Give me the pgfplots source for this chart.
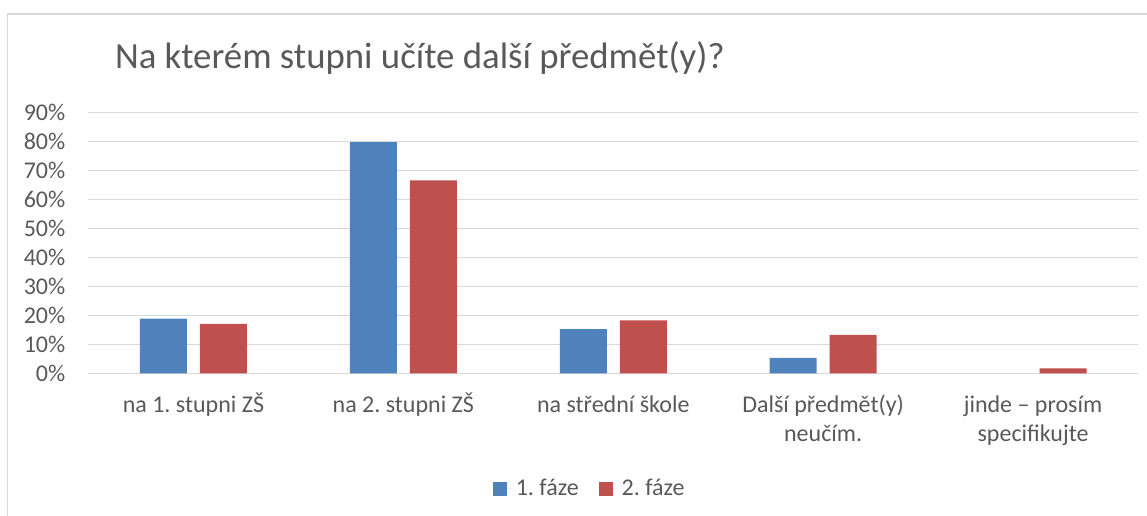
\documentclass[border=0pt]{standalone}
\usepackage{fontspec}
\setmainfont{Carlito}
\usepackage{pgfplots}
\pgfplotsset{compat=1.18}
\definecolor{txtgray}{HTML}{595959}
\definecolor{gridgray}{HTML}{D9D9D9}
\definecolor{faze1}{HTML}{4F81BD}
\definecolor{faze2}{HTML}{C0504D}
\frenchspacing

\begin{document}
\begin{tikzpicture}
% 1 px of the reference = 0.5pt
\useasboundingbox (0,0) rectangle (573.5pt,-257.5pt);
\draw[gridgray, line width=0.75pt] (3.85pt,-265pt) -- (3.85pt,-7pt) -- (580pt,-7pt);
\node[anchor=base west, inner sep=0pt, text=txtgray, font=\fontsize{18.4}{21}\selectfont]
  at (57.3pt,-34.15pt) {Na kterém stupni učíte další předmět(y)?};

\begin{axis}[
    at={(44.25pt,-186.65pt)}, anchor=south west,
    scale only axis,
    width=524.75pt, height=130.3pt,
    xmin=-0.5, xmax=4.5,
    ymin=0, ymax=90,
    xtick={0,1,2,3,4},
    xticklabels={\strut na 1. stupni ZŠ, \strut na 2. stupni ZŠ, \strut na střední škole,
                 {\strut Další předmět(y)\\neučím.}, {\strut jinde – prosím\\specifikujte}},
    ytick={0,10,...,90},
    yticklabels={0\%,10\%,20\%,30\%,40\%,50\%,60\%,70\%,80\%,90\%},
    ymajorgrids,
    grid style={draw=gridgray, line width=0.75pt},
    axis line style={draw=none},
    major tick length=0pt,
    tick label style={font=\fontsize{12}{14.5}\selectfont, text=txtgray},
    xticklabel style={align=center, anchor=north, inner sep=0pt, yshift=-9.05pt},
    yticklabel style={anchor=east, inner sep=0pt, xshift=-11.4pt},
    ybar, bar width=23.5pt,
    legend columns=2,
    legend style={at={(0.4785,-0.4428)}, anchor=center, draw=none, fill=none,
        font=\fontsize{12}{14.5}\selectfont, text=txtgray,
        /tikz/every even column/.append style={column sep=8pt}},
    legend image code/.code={\fill[#1] (0pt,-3.5pt) rectangle (7pt,3.5pt);
        \path (0pt,0pt) -- (9.5pt,0pt);},
]
\addplot[fill=faze1, draw=none, bar shift=-15pt] coordinates {
    (0,18.9) (1,79.8) (2,15.3) (3,5.3)
};
\addlegendentry{1. fáze}
\addplot[fill=faze2, draw=none, bar shift=15pt] coordinates {
    (0,17.1) (1,66.6) (2,18.3) (3,13.3) (4,1.7)
};
\addlegendentry{2. fáze}
\end{axis}
\end{tikzpicture}
\end{document}
